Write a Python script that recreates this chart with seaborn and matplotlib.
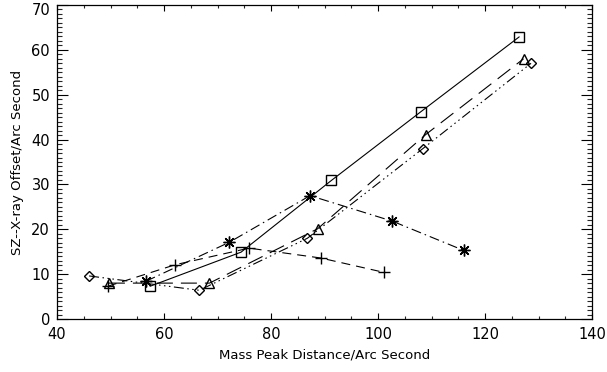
import matplotlib
matplotlib.use("Agg")
import matplotlib.pyplot as plt
import matplotlib.transforms as mtransforms
import seaborn as sns
import pandas as pd

sns.set_theme(style="white")
plt.rcParams['font.family'] = ['DejaVu Sans']

# Data
sq_x = [57.4, 74.4, 91.3, 108.0, 126.4]
sq_y = [7.3, 14.9, 30.9, 46.2, 62.9]

tri_x = [49.7, 68.5, 88.7, 108.9, 127.2]
tri_y = [8.0, 8.0, 20.1, 41.1, 58.0]

dia_x = [46.0, 66.6, 86.8, 108.4, 128.6]
dia_y = [9.6, 6.4, 18.0, 38.0, 57.0]

plus_x = [49.5, 62.1, 75.9, 89.3, 101.1]
plus_y = [7.3, 12.1, 15.8, 13.6, 10.4]

ast_x = [56.6, 72.2, 87.3, 102.7, 116.0]
ast_y = [8.4, 17.1, 27.5, 21.8, 15.3]

x_label = "Mass Peak Distance/Arc Second"
y_label = "SZ--X-ray Offset/Arc Second"

W, H = 607, 372
fig = plt.figure(figsize=(W / 100, H / 100), dpi=100)
ax = fig.add_axes([57 / W, 1 - 319 / H, (592 - 57) / W, (319 - 5) / H])
ax.set_facecolor("white")

lw = 0.8

def ls(pattern_px):
    # pattern in pixels -> in units of linewidth
    return (0, tuple(p * 0.72 / lw for p in pattern_px))

series = [
    (sq_x, sq_y, "s", "-", 7.5),
    (plus_x, plus_y, "+", ls([9, 6]), 8.5),
    (ast_x, ast_y, (8, 2, 0), ls([10, 4, 1.5, 4]), 8.5),
    (dia_x, dia_y, "D", ls([10, 3.5, 1.5, 3.5, 1.5, 3.5, 1.5, 3.5]), 5.5),
    (tri_x, tri_y, "^", ls([16, 8]), 7.5),
]

for xs, ys, mk, style, ms in series:
    df = pd.DataFrame({"x": xs, "y": ys})
    sns.lineplot(data=df, x="x", y="y", ax=ax, sort=False, color="black",
                 linewidth=lw, linestyle=style, marker=mk, markersize=ms,
                 markerfacecolor="none", markeredgecolor="black",
                 markeredgewidth=1.0)

ax.set_xlim(40, 140)
ax.set_ylim(0, 70)
ax.set_xticks([40, 60, 80, 100, 120, 140])
ax.set_xticks(list(range(40, 141, 5)), minor=True)
ax.set_yticks(list(range(0, 71, 10)))
ax.set_yticks(list(range(0, 71, 1)), minor=True)

for s in ax.spines.values():
    s.set_color("black")
    s.set_linewidth(0.9)

ax.tick_params(axis="x", which="major", direction="in", length=4.3, width=0.8,
               top=True, bottom=True, pad=6, labelsize=10.5, colors="black")
ax.tick_params(axis="x", which="minor", direction="in", length=2.2, width=0.8,
               top=True, bottom=True)
ax.tick_params(axis="y", which="major", direction="in", length=7.7, width=0.8,
               left=True, right=True, pad=5, labelsize=10.5, colors="black")
ax.tick_params(axis="y", which="minor", direction="in", length=3.6, width=0.8,
               left=True, right=True)

ax.set_xlabel(x_label, fontsize=9.5, color="black")
ax.set_ylabel(y_label, fontsize=9.5, color="black")
ax.xaxis.set_label_coords(0.5, -0.114)
ax.xaxis.label.set_va("center")
ax.yaxis.set_label_coords(-0.073, 0.5)
ax.yaxis.label.set_va("center")

# nudge the top y tick label down so it stays inside the figure
fig.canvas.draw()
top_lbl = ax.get_yticklabels()[-1]
top_lbl.set_transform(top_lbl.get_transform() +
                      mtransforms.ScaledTranslation(0, -3 / 72, fig.dpi_scale_trans))

if ax.get_legend():
    ax.get_legend().remove()

fig.savefig("out.png", dpi=100, facecolor="white")
